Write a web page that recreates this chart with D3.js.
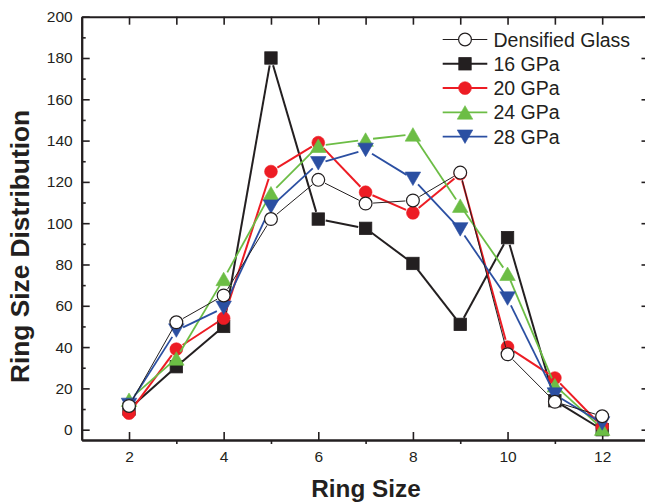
<!DOCTYPE html>
<html>
<head>
<meta charset="utf-8">
<script src="https://cdn.jsdelivr.net/npm/d3@7"></script>
<style>
  html, body { margin: 0; padding: 0; background: #fff; }
  svg { display: block; }
  text { font-family: Arial, "Liberation Sans", sans-serif; fill: #231f20; }
</style>
</head>
<body>
<svg id="chart" width="645" height="503"></svg>
<script>
// ---- data ----
const ringSize = [2, 3, 4, 5, 6, 7, 8, 9, 10, 11, 12];
const densifiedGlass = [11.5, 52, 65, 102, 121, 109.5, 111, 124.5, 36.5, 13.5, 6.5];
const gpa16 = [10, 30.5, 50, 180, 102, 97.5, 80.5, 51, 93, 14, 0];
const gpa20 = [8, 39, 54, 125, 139, 115, 105, 124, 40, 25, 1.5];
const gpa24 = [14.5, 34.5, 73, 114.5, 137.5, 140.5, 143, 108.5, 75.5, 21.5, 0.5];
const gpa28 = [12, 48, 59, 108, 129, 135.5, 121.5, 97, 63.5, 17, 3];
const seriesNames = ["Densified Glass", "16 GPa", "20 GPa", "24 GPa", "28 GPa"];
const xTickLabels = [2, 4, 6, 8, 10, 12];
const yTickLabels = [0, 20, 40, 60, 80, 100, 120, 140, 160, 180, 200];

const series = [
  { name: seriesNames[1], values: gpa16, color: "#231f20", width: 2, symbol: "square", fill: "#231f20" },
  { name: seriesNames[2], values: gpa20, color: "#ed1c24", width: 2, symbol: "circle", fill: "#ed1c24" },
  { name: seriesNames[3], values: gpa24, color: "#6cbd45", width: 1.8, symbol: "up", fill: "#6cbd45" },
  { name: seriesNames[4], values: gpa28, color: "#2b4fa2", width: 1.8, symbol: "down", fill: "#2b4fa2" },
  { name: seriesNames[0], values: densifiedGlass, color: "#231f20", width: 1, symbol: "circle", fill: "#ffffff" }
];
const legendOrder = [4, 0, 1, 2, 3];

const svg = d3.select("#chart");
const x = d3.scaleLinear().domain([1, 13]).range([81.7, 649.5]);
const y = d3.scaleLinear().domain([-5, 200]).range([440, 16.7]);

const axisColor = "#231f20";
function styleAxis(g) {
  g.selectAll("path.domain").attr("stroke", axisColor).attr("stroke-width", 2);
  g.selectAll(".tick line").attr("stroke", axisColor).attr("stroke-width", 1.6);
  g.selectAll("text").attr("font-size", "15.5px").attr("fill", axisColor)
    .attr("font-family", 'Arial, "Liberation Sans", sans-serif');
}

// top axis (ticks at each integer, inward)
svg.append("g").attr("transform", `translate(0,${y.range()[1]})`)
  .call(d3.axisTop(x).tickValues(d3.range(2, 13)).tickSize(-8).tickSizeOuter(0).tickFormat(""))
  .call(styleAxis);
// right axis
svg.append("g").attr("transform", `translate(${x.range()[1]},0)`)
  .call(d3.axisRight(y).tickValues(d3.range(10, 200, 20)).tickSize(-4).tickSizeOuter(0).tickFormat(""))
  .call(styleAxis);
svg.append("g").attr("transform", `translate(${x.range()[1]},0)`)
  .call(d3.axisRight(y).tickValues(yTickLabels).tickSize(-8).tickSizeOuter(0).tickFormat(""))
  .call(styleAxis);
// left axis minor
svg.append("g").attr("transform", `translate(${x.range()[0]},0)`)
  .call(d3.axisLeft(y).tickValues(d3.range(10, 200, 20)).tickSize(-4).tickSizeOuter(0).tickFormat(""))
  .call(styleAxis);
// left axis major with labels
svg.append("g").attr("transform", `translate(${x.range()[0]},0)`)
  .call(d3.axisLeft(y).tickValues(yTickLabels).tickSize(-8).tickSizeOuter(0).tickPadding(9))
  .call(styleAxis);
// bottom axis minor (outward)
svg.append("g").attr("transform", `translate(0,${y.range()[0]})`)
  .call(d3.axisBottom(x).tickValues([3, 5, 7, 9, 11]).tickSize(4).tickSizeOuter(0).tickFormat(""))
  .call(styleAxis);
// bottom axis major with labels
svg.append("g").attr("transform", `translate(0,${y.range()[0]})`)
  .call(d3.axisBottom(x).tickValues(xTickLabels).tickSize(-8).tickSizeOuter(0).tickPadding(11))
  .call(styleAxis);

// axis titles
svg.append("text").attr("x", 366).attr("y", 497).attr("text-anchor", "middle")
  .attr("font-size", "24.3px").attr("font-weight", "bold").text("Ring Size");
svg.append("text").attr("transform", "translate(28.5,246.5) rotate(-90)").attr("text-anchor", "middle")
  .attr("font-size", "26.3px").attr("font-weight", "bold").text("Ring Size Distribution");

// symbols
function drawSymbol(g, type, cx, cy, fill, stroke) {
  if (type === "square") {
    g.append("rect").attr("x", cx - 6.2).attr("y", cy - 6.2).attr("width", 12.4).attr("height", 12.4)
      .attr("fill", fill).attr("stroke", stroke).attr("stroke-width", 0.8);
  } else if (type === "circle") {
    g.append("circle").attr("cx", cx).attr("cy", cy).attr("r", 6.4)
      .attr("fill", fill).attr("stroke", stroke).attr("stroke-width", fill === "#ffffff" ? 1.2 : 0.6);
  } else if (type === "up") {
    const w = 15.5, h = 13.5;
    g.append("path").attr("d", `M${cx},${cy - h / 2}L${cx + w / 2},${cy + h / 2}L${cx - w / 2},${cy + h / 2}Z`)
      .attr("fill", fill).attr("stroke", stroke).attr("stroke-width", 0.6);
  } else if (type === "down") {
    const w = 15.5, h = 13.5;
    g.append("path").attr("d", `M${cx},${cy + h / 2}L${cx + w / 2},${cy - h / 2}L${cx - w / 2},${cy - h / 2}Z`)
      .attr("fill", fill).attr("stroke", stroke).attr("stroke-width", 0.6);
  }
}

const plot = svg.append("g");
const gap = 7.5;
series.forEach(s => {
  const g = plot.append("g");
  const pts = ringSize.map((r, i) => [x(r), y(s.values[i])]);
  for (let i = 0; i < pts.length - 1; i++) {
    const [x1, y1] = pts[i], [x2, y2] = pts[i + 1];
    const dx = x2 - x1, dy = y2 - y1, len = Math.hypot(dx, dy);
    if (len <= 2 * gap) continue;
    const ux = dx / len, uy = dy / len;
    g.append("line")
      .attr("x1", x1 + ux * gap).attr("y1", y1 + uy * gap)
      .attr("x2", x2 - ux * gap).attr("y2", y2 - uy * gap)
      .attr("stroke", s.color).attr("stroke-width", s.width);
  }
  pts.forEach(p => drawSymbol(g, s.symbol, p[0], p[1], s.fill, s.color));
});

// legend
const legend = svg.append("g");
const legY0 = 39.5, legDy = 24.3;
legendOrder.forEach((si, k) => {
  const s = series[si];
  const yy = legY0 + k * legDy;
  legend.append("line").attr("x1", 442.7).attr("x2", 487.3).attr("y1", yy).attr("y2", yy)
    .attr("stroke", s.color).attr("stroke-width", s.width);
  drawSymbol(legend, s.symbol, 465, yy, s.fill, s.color);
  legend.append("text").attr("x", 493.5).attr("y", yy).attr("dy", "0.36em")
    .attr("font-size", "19.5px").text(s.name);
});
</script>
</body>
</html>
